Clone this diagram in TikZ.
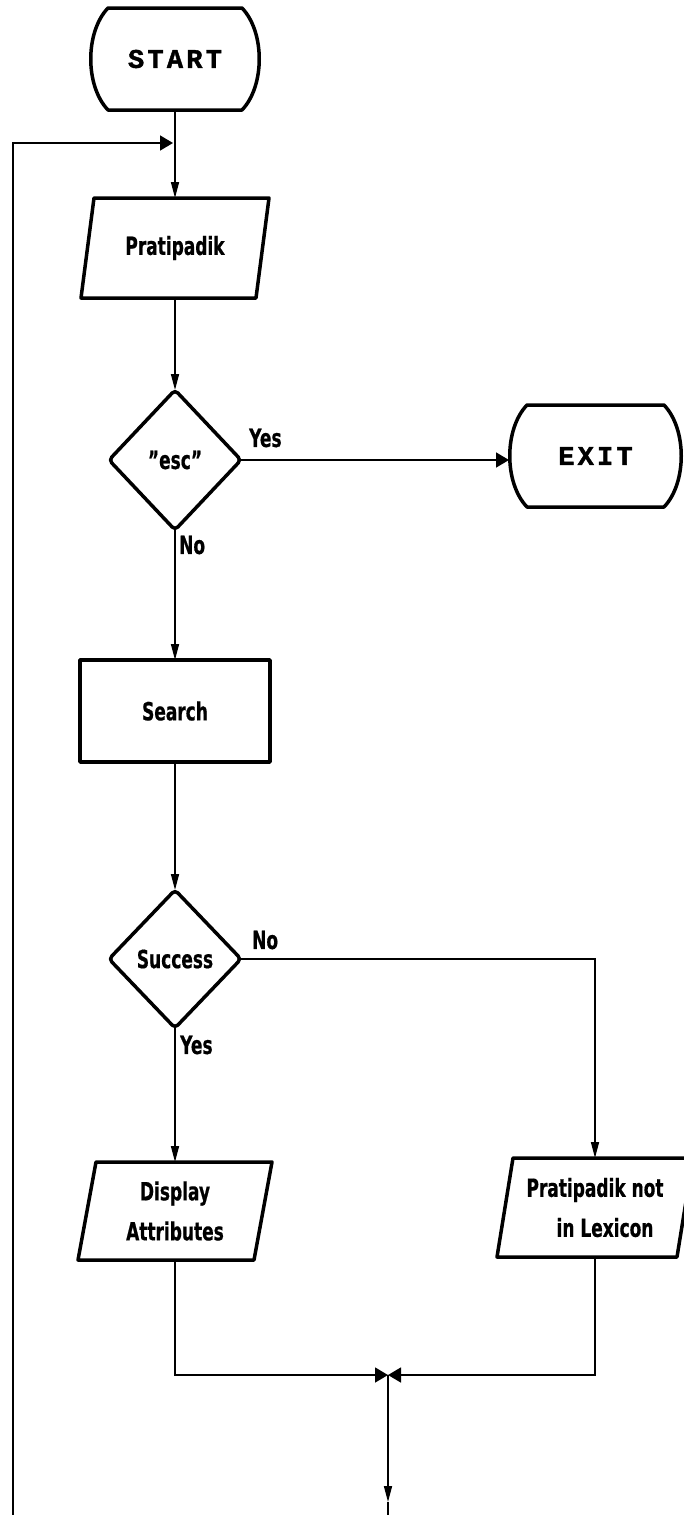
\documentclass[tikz,border=0pt]{standalone}
\usepackage{fontspec}
\usetikzlibrary{arrows.meta,calc}
\newfontfamily\lblfont{DejaVu Sans}[FakeStretch=0.68, BoldFeatures={FakeBold=0.6}]
\newfontfamily\termfont{Liberation Mono}[LetterSpace=12, BoldFeatures={FakeBold=1.5}]
\newcommand{\termdraw}[1]{\draw[shapeline] ([xshift=18pt]#1.north west) -- ([xshift=-18pt]#1.north east) .. controls ([xshift=5pt,yshift=-24pt]#1.north east) and ([xshift=5pt,yshift=24pt]#1.south east) .. ([xshift=-18pt]#1.south east) -- ([xshift=18pt]#1.south west) .. controls ([xshift=-5pt,yshift=24pt]#1.south west) and ([xshift=-5pt,yshift=-24pt]#1.north west) .. cycle;}
\newcommand{\paradraw}[2]{\draw[shapeline] ([xshift=#2]#1.north west) -- ([xshift=#2]#1.north east) -- ([xshift=-#2]#1.south east) -- ([xshift=-#2]#1.south west) -- cycle;}
\newcommand{\diadraw}[1]{\draw[shapeline, rounded corners=4pt] (#1.north) -- (#1.east) -- (#1.south) -- (#1.west) -- cycle;}
\begin{document}
\begin{tikzpicture}[x=1pt,y=-1pt,
  shapeline/.style={line width=3.5pt, line join=round},
  conn/.style={line width=1.6pt},
  varr/.style={conn,-{Triangle[length=16pt,width=8pt]}},
  harr/.style={conn,-{Triangle[length=13pt,width=15pt]}},
  box/.style={inner sep=0pt, outer sep=0pt, align=center, font=\lblfont\bfseries\fontsize{25}{40}\selectfont},
  lbl/.style={inner sep=0pt, font=\lblfont\bfseries\fontsize{25}{26}\selectfont},
  term/.style={inner sep=0pt, outer sep=0pt, font=\termfont\bfseries\fontsize{27}{28}\selectfont}]
\useasboundingbox (0,0) rectangle (683,1515);
\fill[white] (0,0) rectangle (683,1515);

% nodes
\node[term, minimum width=170pt, minimum height=102pt] (start) at (175,59) {START};
\node[box, minimum width=175pt, minimum height=100pt] (inp) at (175,248) {Pratipadik};
\node[box, minimum width=132pt, minimum height=140pt] (esc) at (175,460) {”esc”};
\node[term, minimum width=173pt, minimum height=102pt] (exit) at (595.5,456) {EXIT};
\node[box, minimum width=190pt, minimum height=102pt] (search) at (175,711) {Search};
\node[box, minimum width=132pt, minimum height=138pt] (succ) at (175,959) {Success};
\node[box, minimum width=176pt, minimum height=98pt] (disp) at (175,1211) {Display\\Attributes};
\node[box, minimum width=180pt, minimum height=99pt] (nf) at (595,1207.5) {Pratipadik not\\\hspace*{20pt}in Lexicon};

% labels
\node[lbl, anchor=west] (yes1) at (249,438) {Yes};
\node[lbl, anchor=west] (no1) at (179,545) {No};
\node[lbl, anchor=west] (no2) at (252,940) {No};
\node[lbl, anchor=west] (yes2) at (180,1045) {Yes};

% coordinates
\coordinate (merge) at (175,143);
\coordinate (loopstart) at (13,1515);
\coordinate (j) at (388,1375);
\coordinate (tip) at (388,1502);
\coordinate (out) at (388,1515);

% shapes
\termdraw{start}
\termdraw{exit}
\paradraw{inp}{6.5pt}
\diadraw{esc}
\draw[shapeline] (search.north west) rectangle (search.south east);
\diadraw{succ}
\paradraw{disp}{9pt}
\paradraw{nf}{8pt}

% connectors
\draw[varr] (start.south) -- (inp.north);
\draw[harr, shorten >=2pt] (loopstart) |- (merge);
\draw[varr] (inp.south) -- (esc.north);
\draw[harr] (esc.east) -- (esc.east -| exit.west);
\draw[varr] (esc.south) -- (search.north);
\draw[varr] (search.south) -- (succ.north);
\draw[varr] (succ.south) -- (disp.north);
\draw[varr] (succ.east) -| (nf.north);
\draw[harr] (disp.south) |- (j);
\draw[harr] (nf.south) |- (j);
\draw[varr] (j) -- (tip);
\draw[conn] (tip) -- (out);
\end{tikzpicture}
\end{document}
